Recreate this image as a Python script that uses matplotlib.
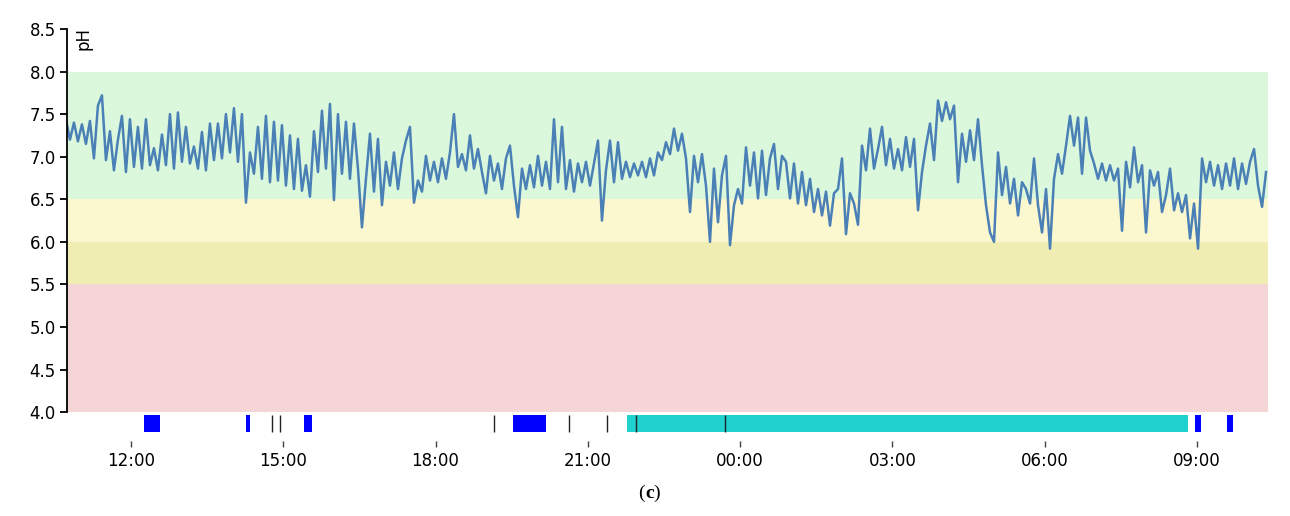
import matplotlib.pyplot as plt
import numpy as np

# pH readings (sensor samples, evenly spaced in time)
ph_values = [
    # 10:43 - 15:30
    7.44, 7.20, 7.40, 7.18, 7.38, 7.15, 7.42, 6.98, 7.60, 7.72,
    6.96, 7.30, 6.84, 7.20, 7.48, 6.82, 7.44, 6.88, 7.35, 6.86,
    7.44, 6.90, 7.10, 6.84, 7.26, 6.90, 7.50, 6.86, 7.52, 6.94,
    7.35, 6.92, 7.12, 6.86, 7.29, 6.84, 7.39, 6.96, 7.39, 6.98,
    7.50, 7.05, 7.57, 6.94, 7.50, 6.46, 7.05, 6.80, 7.35, 6.74,
    7.48, 6.70, 7.41, 6.72, 7.37, 6.66, 7.25, 6.62, 7.21, 6.60,
    # 15:30 - 20:15
    6.90, 6.53, 7.30, 6.82, 7.54, 6.86, 7.62, 6.49, 7.50, 6.80,
    7.41, 6.74, 7.39, 6.86, 6.17, 6.74, 7.27, 6.59, 7.21, 6.43,
    6.94, 6.66, 7.05, 6.62, 6.98, 7.19, 7.35, 6.46, 6.72, 6.59,
    7.01, 6.72, 6.94, 6.70, 6.98, 6.74, 7.05, 7.50, 6.88, 7.03,
    6.84, 7.25, 6.86, 7.09, 6.82, 6.57, 7.01, 6.72, 6.92, 6.62,
    6.98, 7.13, 6.66, 6.29, 6.86, 6.62, 6.90, 6.64, 7.01, 6.66,
    # 20:15 - 01:00
    6.94, 6.62, 7.44, 6.70, 7.35, 6.62, 6.96, 6.59, 6.92, 6.70,
    6.94, 6.66, 6.92, 7.19, 6.25, 6.84, 7.19, 6.70, 7.17, 6.74,
    6.94, 6.76, 6.92, 6.78, 6.94, 6.76, 6.98, 6.78, 7.05, 6.96,
    7.17, 7.03, 7.33, 7.07, 7.27, 6.98, 6.35, 7.01, 6.70, 7.03,
    6.66, 6.00, 6.86, 6.23, 6.78, 7.01, 5.96, 6.43, 6.62, 6.45,
    7.11, 6.66, 7.05, 6.51, 7.07, 6.55, 6.98, 7.15, 6.62, 7.01,
    # 01:00 - 05:45
    6.94, 6.51, 6.92, 6.45, 6.82, 6.43, 6.74, 6.35, 6.62, 6.31,
    6.59, 6.19, 6.57, 6.62, 6.98, 6.09, 6.57, 6.45, 6.20, 7.13,
    6.84, 7.33, 6.86, 7.09, 7.35, 6.90, 7.21, 6.86, 7.09, 6.84,
    7.23, 6.88, 7.21, 6.37, 6.82, 7.13, 7.39, 6.96, 7.66, 7.42,
    7.64, 7.44, 7.60, 6.70, 7.27, 6.94, 7.31, 6.96, 7.44, 6.90,
    6.43, 6.11, 6.00, 7.05, 6.55, 6.88, 6.45, 6.74, 6.31, 6.70,
    # 05:45 - 10:20
    6.62, 6.45, 6.98, 6.43, 6.11, 6.62, 5.92, 6.74, 7.03, 6.80,
    7.13, 7.48, 7.13, 7.46, 6.80, 7.46, 7.07, 6.92, 6.74, 6.92,
    6.72, 6.90, 6.72, 6.86, 6.13, 6.94, 6.64, 7.11, 6.70, 6.90,
    6.11, 6.84, 6.66, 6.82, 6.35, 6.55, 6.86, 6.37, 6.57, 6.35,
    6.55, 6.04, 6.45, 5.92, 6.98, 6.70, 6.94, 6.66, 6.90, 6.62,
    6.92, 6.66, 6.98, 6.62, 6.92, 6.68, 6.94, 7.09, 6.66, 6.41,
    6.82,
]
t_start, t_end = 10.72, 34.36   # hours since midnight of day 1

# pH zones (low, high, colour)
zone_lo = [6.5, 6.0, 5.5, 4.0]
zone_hi = [8.0, 6.5, 6.0, 5.5]
zone_colors = ['#dcf8dc', '#fbf8cf', '#f0edb2', '#f5d5d6']

# events below the chart (start hour, duration hours)
meal_start = [12.25, 14.26, 15.40, 19.52, 32.96, 33.60]
meal_len = [0.32, 0.08, 0.17, 0.65, 0.12, 0.10]
sleep_start = [21.77]
sleep_len = [11.06]
marker_times = [14.78, 14.93, 19.15, 20.63, 21.37, 21.95, 23.70]

tick_hours = [12, 15, 18, 21, 24, 27, 30, 33]
tick_labels = ['12:00', '15:00', '18:00', '21:00', '00:00', '03:00', '06:00', '09:00']

plt.rcParams['font.family'] = ['DejaVu Sans']

fig = plt.figure(figsize=(12.9, 5.16), dpi=100)
ax = fig.add_axes([0.0519, 0.1453, 0.9311, 0.7985])

for lo, hi, c in zip(zone_lo, zone_hi, zone_colors):
    ax.axhspan(lo, hi, color=c, lw=0, zorder=0)

t = np.linspace(t_start, t_end, len(ph_values))
ax.plot(t, ph_values, color='#4a80b6', lw=1.8, zorder=2)

# event strip
bar_bottom, bar_h = 3.765, 0.2
ax.broken_barh(list(zip(sleep_start, sleep_len)), (bar_bottom, bar_h),
               facecolor='#1fd1cf', edgecolor='none', zorder=2)
ax.broken_barh(list(zip(meal_start, meal_len)), (bar_bottom, bar_h),
               facecolor='#0000ff', edgecolor='none', zorder=2)
ax.vlines(marker_times, bar_bottom, bar_bottom + bar_h, color='#222222', lw=1, zorder=3)

ax.set_xlim(10.74, 34.40)
ax.set_ylim(3.66, 8.5)
ax.set_yticks(np.arange(4.0, 8.51, 0.5))
ax.set_yticklabels([f'{v:.1f}' for v in np.arange(4.0, 8.51, 0.5)], fontsize=12)
ax.set_xticks(tick_hours)
ax.set_xticklabels(tick_labels, fontsize=12)

for s in ['top', 'right', 'bottom']:
    ax.spines[s].set_visible(False)
ax.spines['left'].set_bounds(4.0, 8.5)
ax.spines['left'].set_linewidth(1.3)
ax.tick_params(axis='y', length=5, width=1.3, pad=3)
ax.tick_params(axis='x', length=4, width=1, color='#444444', pad=4)

fig.text(83 / 1290, 1 - 39 / 516, 'pH', rotation=90, ha='center', va='center', fontsize=12)

fig.text(0.5, 1 - 493 / 516, '(', ha='right', va='center', fontsize=14, family='Liberation Serif')
fig.text(0.5, 1 - 493 / 516, 'c', ha='left', va='center', fontsize=14, family='Liberation Serif',
         weight='bold')
fig.text(0.5 + 8 / 1290, 1 - 493 / 516, ')', ha='left', va='center', fontsize=14,
         family='Liberation Serif')

plt.savefig('out.png', dpi=100)
